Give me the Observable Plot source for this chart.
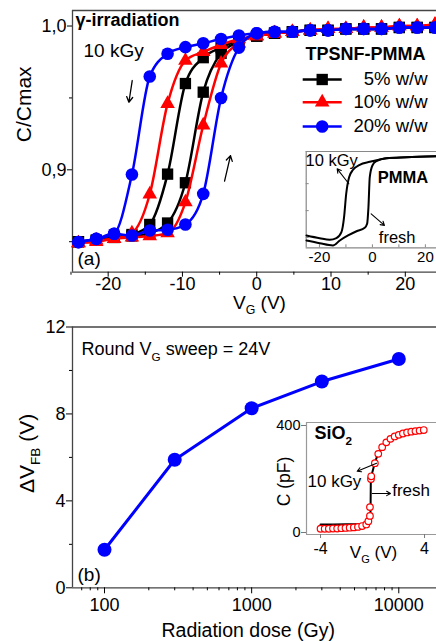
<!DOCTYPE html>
<html><head><meta charset="utf-8">
<script src="https://cdn.jsdelivr.net/npm/d3@7"></script>
<script src="https://cdn.jsdelivr.net/npm/@observablehq/plot@0.6"></script>
<style>
html,body{margin:0;padding:0;background:#fff;overflow:hidden}
#wrap{position:relative;width:436px;height:641px}
#wrap > div{position:absolute}
</style></head><body><div id="wrap">
<div id="pa" style="left:0;top:0"></div>
<div id="pb" style="left:0;top:316px"></div>
<div id="ia" style="left:290px;top:140px"></div>
<div id="ib" style="left:270px;top:412px"></div>
</div>
<script>
// ---------- DATA ----------
// Panel (a): C/Cmax vs VG, markers every 2.4 V
const vg = [-24,-21.6,-19.2,-16.8,-14.4,-12,-9.6,-7.2,-4.8,-2.4,0,2.4,4.8,7.2,9.6,12,14.4,16.8,19.2,21.6,24];
const seriesNames = ["5% w/w", "10% w/w", "20% w/w"];
const c5Down  = [0.850,0.851,0.853,0.855,0.862,0.897,0.960,0.978,0.985,0.990,0.993,0.995,0.996,0.997,0.997,0.998,0.998,0.998,0.999,0.999,0.999];
const c5Up    = [0.850,0.851,0.853,0.854,0.856,0.863,0.891,0.954,0.981,0.989,0.993,0.995,0.996,0.997,0.997,0.998,0.998,0.998,0.999,0.999,0.999];
const c10Down = [0.849,0.851,0.852,0.856,0.883,0.946,0.976,0.982,0.987,0.991,0.993,0.995,0.996,0.997,0.998,0.998,0.999,0.999,1.000,1.000,1.001];
const c10Up   = [0.849,0.850,0.852,0.853,0.854,0.856,0.8775,0.931,0.974,0.988,0.993,0.995,0.996,0.997,0.998,0.998,0.999,0.999,1.000,1.000,1.001];
const c20Down = [0.8497,0.852,0.8555,0.8967,0.9649,0.9807,0.9853,0.988,0.991,0.9934,0.995,0.996,0.996,0.997,0.997,0.998,0.998,0.998,0.999,0.999,0.999];
const c20Up   = [0.8497,0.852,0.8555,0.8543,0.8578,0.8583,0.862,0.8833,0.950,0.985,0.995,0.996,0.996,0.997,0.997,0.998,0.998,0.998,0.999,0.999,0.999];
const xTicksA = [-20,-10,0,10,20];
const xMinorA = [-25,-15,-5,5,15];
const yTicksA = [0.9,1.0];
const yMinorA = [0.85,0.95];

// Inset (a): PMMA
const pmmaFreshV = [-24.9,-19.9,-14.9,-12.3,-9.2,-6.0,-2.9,-2.0,-1.5,-1.0,0,1.5,5.3,12.8,24];
const pmmaFreshC = [0.076,0.048,0.024,0.076,0.128,0.172,0.208,0.249,0.42,0.733,0.855,0.90,0.93,0.94,0.95];
const pmmaIrrV   = [-24.9,-19.9,-16.1,-13.6,-11.7,-10.7,-9.9,-8.8,-7.3,-4.8,-1.0,2.8,5.3,12.8,24];
const pmmaIrrC   = [0.128,0.10,0.083,0.10,0.162,0.318,0.56,0.733,0.81,0.862,0.893,0.917,0.93,0.94,0.95];
const xTicksIA = [-20,0,20];
const xMinorIA = [-20,-10,0,10,20];
const yMinorIA = [0.107,0.386,0.666,0.945];

// Panel (b): ΔVFB vs dose
const dose = [100,300,1000,3000,10000];
const dvfb = [1.75,5.89,8.26,9.49,10.53];
const xTicksB = [100,1000,10000];
const xMinorB = [70,80,90,200,300,400,500,600,700,800,900,2000,3000,4000,5000,6000,7000,8000,9000];
const yTicksB = [0,4,8,12];
const yMinorB = [2,6,10];

// Inset (b): SiO2
const sio2V = [-4,-3.68,-3.36,-3.04,-2.72,-2.4,-2.08,-1.76,-1.44,-1.12,-0.8,-0.48,-0.32,-0.2,-0.2,-0.12,-0.1,0.18,0.44,0.74,1.06,1.38,1.7,2.02,2.34,2.66,2.98,3.3,3.62,3.94];
const sio2C = [14,14,14,15,15,16,17,18,19,21,24,30,42,62,95,200,210,259,294,319,337,350,359,365,370,374,377,379,381,383];
const freshV = [-4,-3,-2,-1,-0.5,-0.25,-0.17,-0.15,-0.13,0,0.18,0.44,0.74,1.5,2.5,4];
const freshC = [30,30,30.5,31,33,40,48,100,205,228,262,296,320,352,371,383];
const xTicksIB = [-4,4];
const yTicksIB = [0,400];

// ---------- HELPERS ----------
const FONT = "'Liberation Sans', Arial, Helvetica, sans-serif";
const NS = "http://www.w3.org/2000/svg";
function richify(root) {
  root.querySelectorAll("text").forEach(t => {
    const s = t.textContent;
    if (!s.includes("_{") || t.children.length) return;
    t.textContent = "";
    const re = /_\{([^}]*)\}/g;
    let last = 0, m, pendingUp = false;
    const add = (str, sub) => {
      if (!str) return;
      const ts = document.createElementNS(NS, "tspan");
      ts.textContent = str;
      if (sub) { ts.setAttribute("font-size", "0.65em"); ts.setAttribute("dy", "0.45em"); }
      else if (pendingUp) { ts.setAttribute("dy", "-0.29em"); }
      t.appendChild(ts);
    };
    while ((m = re.exec(s))) {
      add(s.slice(last, m.index), false); pendingUp = false;
      add(m[1], true); pendingUp = true;
      last = re.lastIndex;
    }
    add(s.slice(last), false);
  });
}
const lbl = (txt, o) => Plot.text([txt], {text: d => d, ...o});

// ---------- PANEL (a) ----------
const xA = [-24.8, 24.2];
const yA = [0.8288, 1.0108];
const col = ["#000000", "#ff0000", "#0000ff"];
const sym = ["square", "triangle", "circle"];
const rad = [6.4, 5.4, 6.3];
const downB = [c5Down, c10Down, c20Down];
const upB = [c5Up, c10Up, c20Up];
const rowsA = seriesNames.flatMap((s, i) => [
  ...vg.map((v, j) => ({s, b: "down", v, c: downB[i][j]})),
  ...vg.map((v, j) => ({s, b: "up", v, c: upB[i][j]}))
]);
const hline = {draw(ctx) { ctx.moveTo(-19.5, 0); ctx.lineTo(19.5, 0); }};
const legDy = [69, 91.7, 116];

const plotA = Plot.plot({
  width: 436, height: 316,
  marginLeft: 72, marginRight: 0, marginTop: 10, marginBottom: 44.3,
  style: {fontFamily: FONT, background: "white", color: "#000"},
  x: {domain: xA, label: null},
  y: {domain: yA, label: null},
  marks: [
    Plot.ruleY([yA[1]], {stroke: "#444", strokeWidth: 1.3}),
    Plot.ruleY([yA[0]], {stroke: "#444", strokeWidth: 1.3}),
    Plot.ruleX([xA[0]], {stroke: "#444", strokeWidth: 1.3}),
    Plot.axisX({ticks: xTicksA, tickSize: 5, tickPadding: 0, fontSize: 18, label: null, tickFormat: d => String(d)}),
    Plot.axisX({ticks: xMinorA, tickSize: 3, label: null, tickFormat: () => ""}),
    Plot.axisY({ticks: yTicksA, tickSize: 5, tickPadding: 1, fontSize: 18, label: null, tickFormat: d => d.toFixed(1).replace(".", ",")}),
    Plot.axisY({ticks: yMinorA, tickSize: 3, label: null, tickFormat: () => ""}),
    ...seriesNames.flatMap((s, i) => {
      const d = rowsA.filter(r => r.s === s);
      return [
        Plot.line(d, {x: "v", y: "c", z: "b", stroke: col[i], strokeWidth: 2.5, curve: "monotone-x"}),
        Plot.dot(d, {x: "v", y: "c", symbol: sym[i], r: rad[i], fill: col[i], stroke: "none"})
      ];
    }),
    Plot.arrow([0], {x1: -16.76, y1: 0.9621, x2: -17.21, y2: 0.9470, stroke: "#000", strokeWidth: 1.3, headLength: 7}),
    Plot.arrow([0], {x1: -4.33, y1: 0.8922, x2: -3.53, y2: 0.9099, stroke: "#000", strokeWidth: 1.3, headLength: 7}),
    lbl("γ-irradiation", {frameAnchor: "top-left", dx: 3, dy: 10, textAnchor: "start", lineAnchor: "middle", fontWeight: "bold", fontSize: 18}),
    lbl("10 kGy", {frameAnchor: "top-left", dx: 11, dy: 40, textAnchor: "start", lineAnchor: "middle", fontSize: 19}),
    lbl("TPSNF-PMMA", {frameAnchor: "top-left", dx: 233, dy: 43.3, textAnchor: "start", lineAnchor: "middle", fontWeight: "bold", fontSize: 18}),
    ...seriesNames.flatMap((s, i) => [
      Plot.dot([0], {frameAnchor: "top-left", dx: 249.7, dy: legDy[i], symbol: hline, stroke: col[i], strokeWidth: 2.5, fill: "none"}),
      Plot.dot([0], {frameAnchor: "top-left", dx: 249.7, dy: legDy[i], symbol: sym[i], r: rad[i], fill: col[i], stroke: "none"}),
      lbl(s, {frameAnchor: "top-left", dx: 355, dy: legDy[i], textAnchor: "end", lineAnchor: "middle", fontSize: 18.5})
    ]),
    lbl("(a)", {frameAnchor: "bottom-left", dx: 5, dy: -13.7, textAnchor: "start", lineAnchor: "middle", fontSize: 19}),
    lbl("V_{G} (V)", {frameAnchor: "bottom", dx: 5, dy: 30.5, textAnchor: "middle", lineAnchor: "middle", fontSize: 19}),
    lbl("C/Cmax", {frameAnchor: "left", dx: -48, dy: -37, rotate: -90, textAnchor: "middle", lineAnchor: "middle", fontSize: 21})
  ]
});
richify(plotA);
document.getElementById("pa").appendChild(plotA);

// ---------- INSET (a) ----------
const xIA = [-25, 24.2];
const yIA = [0, 1];
const pmmaRows = [
  ...pmmaFreshV.map((v, j) => ({k: "fresh", v, c: pmmaFreshC[j]})),
  ...pmmaIrrV.map((v, j) => ({k: "10 kGy", v, c: pmmaIrrC[j]}))
];
const plotIA = Plot.plot({
  width: 146, height: 130,
  marginLeft: 15.7, marginRight: 0, marginTop: 11, marginBottom: 22.7,
  style: {fontFamily: FONT, background: "transparent", color: "#000"},
  x: {domain: xIA, label: null},
  y: {domain: yIA, label: null},
  marks: [
    Plot.frame({fill: "white", stroke: "none"}),
    Plot.ruleY([yIA[0]], {stroke: "#888", strokeWidth: 1.2}),
    Plot.ruleY([yIA[1]], {stroke: "#888", strokeWidth: 1.2}),
    Plot.ruleX([xIA[0]], {stroke: "#888", strokeWidth: 1.2}),
    Plot.axisX({ticks: xMinorIA, tickSize: -3, label: null, tickFormat: () => "", stroke: "#888"}),
    Plot.axisX({ticks: xTicksIA, tickSize: 0, tickPadding: 4, fontSize: 15, label: null, tickFormat: d => String(d)}),
    Plot.axisY({ticks: yMinorIA, tickSize: -3, label: null, tickFormat: () => "", stroke: "#888"}),
    Plot.line(pmmaRows, {x: "v", y: "c", z: "k", stroke: "#000", strokeWidth: 2, curve: "monotone-x"}),
    Plot.arrow([0], {x1: -8.9, y1: 0.665, x2: -13.3, y2: 0.82, stroke: "#000", strokeWidth: 1.1, headLength: 6}),
    Plot.arrow([0], {x1: -0.47, y1: 0.353, x2: 4.55, y2: 0.232, stroke: "#000", strokeWidth: 1.1, headLength: 6}),
    lbl("10 kGy", {frameAnchor: "top-left", dx: -0.7, dy: 9.7, textAnchor: "start", lineAnchor: "middle", fontSize: 16.5}),
    lbl("PMMA", {frameAnchor: "top-left", dx: 71.6, dy: 26.3, textAnchor: "start", lineAnchor: "middle", fontWeight: "bold", fontSize: 16.5}),
    lbl("fresh", {frameAnchor: "top-left", dx: 72.6, dy: 86.3, textAnchor: "start", lineAnchor: "middle", fontSize: 16.5})
  ]
});
document.getElementById("ia").appendChild(plotIA);

// ---------- PANEL (b) ----------
const xB = [60.6, 18040];
const yB = [0, 12];
const rowsB = dose.map((d, i) => ({d, v: dvfb[i]}));
const plotB = Plot.plot({
  width: 436, height: 325,
  marginLeft: 72, marginRight: 0, marginTop: 10.5, marginBottom: 53.7,
  style: {fontFamily: FONT, background: "white", color: "#000"},
  x: {type: "log", domain: xB, label: null},
  y: {domain: yB, label: null},
  marks: [
    Plot.ruleY([yB[1]], {stroke: "#444", strokeWidth: 1.3}),
    Plot.ruleY([yB[0]], {stroke: "#444", strokeWidth: 1.3}),
    Plot.ruleX([xB[0]], {stroke: "#444", strokeWidth: 1.3}),
    Plot.axisX({ticks: xTicksB, tickSize: 6, tickPadding: 4, fontSize: 18, label: null, tickFormat: d => String(d)}),
    Plot.axisX({ticks: xMinorB, tickSize: 3, label: null, tickFormat: () => ""}),
    Plot.axisY({ticks: yTicksB, tickSize: 6, tickPadding: 1, fontSize: 18, label: null, tickFormat: d => String(d)}),
    Plot.axisY({ticks: yMinorB, tickSize: 3, label: null, tickFormat: () => ""}),
    Plot.line(rowsB, {x: "d", y: "v", stroke: "#0000ff", strokeWidth: 3}),
    Plot.dot(rowsB, {x: "d", y: "v", r: 7, fill: "#0000ff", stroke: "none"}),
    lbl("Round V_{G} sweep = 24V", {frameAnchor: "top-left", dx: 9, dy: 22.5, textAnchor: "start", lineAnchor: "middle", fontSize: 18}),
    lbl("(b)", {frameAnchor: "bottom-left", dx: 5, dy: -13.3, textAnchor: "start", lineAnchor: "middle", fontSize: 19}),
    lbl("Radiation dose (Gy)", {frameAnchor: "bottom", dx: -6.3, dy: 43, textAnchor: "middle", lineAnchor: "middle", fontSize: 19.5}),
    lbl("ΔV_{FB} (V)", {frameAnchor: "left", dx: -45, dy: -4, rotate: -90, textAnchor: "middle", lineAnchor: "middle", fontSize: 21})
  ]
});
richify(plotB);
document.getElementById("pb").appendChild(plotB);

// ---------- INSET (b) ----------
const xIB = [-5.08, 4.92];
const yIB = [-7.5, 411.2];
const sio2Rows = sio2V.map((v, i) => ({v, c: sio2C[i]}));
const freshRows = freshV.map((v, i) => ({v, c: freshC[i]}));
const plotIB = Plot.plot({
  width: 166, height: 162,
  marginLeft: 36, marginRight: 0, marginTop: 10, marginBottom: 40,
  style: {fontFamily: FONT, background: "transparent", color: "#000"},
  x: {domain: xIB, label: null},
  y: {domain: yIB, label: null},
  marks: [
    Plot.frame({fill: "white", stroke: "none"}),
    Plot.ruleY([yIB[0]], {stroke: "#999", strokeWidth: 1.2}),
    Plot.ruleY([yIB[1]], {stroke: "#999", strokeWidth: 1.2}),
    Plot.ruleX([xIB[0]], {stroke: "#999", strokeWidth: 1.2}),
    Plot.axisX({ticks: xTicksIB, tickSize: 4, tickPadding: 4, fontSize: 16, label: null, tickFormat: d => String(d), stroke: "#777"}),
    Plot.axisY({ticks: yTicksIB, tickSize: 5, tickPadding: 1, fontSize: 14.5, label: null, tickFormat: d => String(d), stroke: "#777"}),
    Plot.line(freshRows, {x: "v", y: "c", stroke: "#000", strokeWidth: 2}),
    Plot.dot(sio2Rows, {x: "v", y: "c", r: 3.3, fill: "white", stroke: "#ff0000", strokeWidth: 1.2}),
    Plot.arrow([0], {x1: 0.31, y1: 259, x2: -1.18, y2: 229, stroke: "#000", strokeWidth: 1.1, headLength: 6}),
    Plot.arrow([0], {x1: -0.02, y1: 146, x2: 1.38, y2: 146, stroke: "#000", strokeWidth: 1.1, headLength: 6}),
    lbl("SiO_{2}", {frameAnchor: "top-left", dx: 8, dy: 11, textAnchor: "start", lineAnchor: "middle", fontWeight: "bold", fontSize: 18}),
    lbl("10 kGy", {frameAnchor: "top-left", dx: 1, dy: 59, textAnchor: "start", lineAnchor: "middle", fontSize: 17}),
    lbl("fresh", {frameAnchor: "top-left", dx: 85.7, dy: 68, textAnchor: "start", lineAnchor: "middle", fontSize: 17}),
    lbl("V_{G} (V)", {frameAnchor: "bottom", dx: 2, dy: 18, textAnchor: "middle", lineAnchor: "middle", fontSize: 17}),
    lbl("C (pF)", {frameAnchor: "left", dx: -22, dy: 3, rotate: -90, textAnchor: "middle", lineAnchor: "middle", fontSize: 17.5})
  ]
});
richify(plotIB);
document.getElementById("ib").appendChild(plotIB);
</script></body></html>
